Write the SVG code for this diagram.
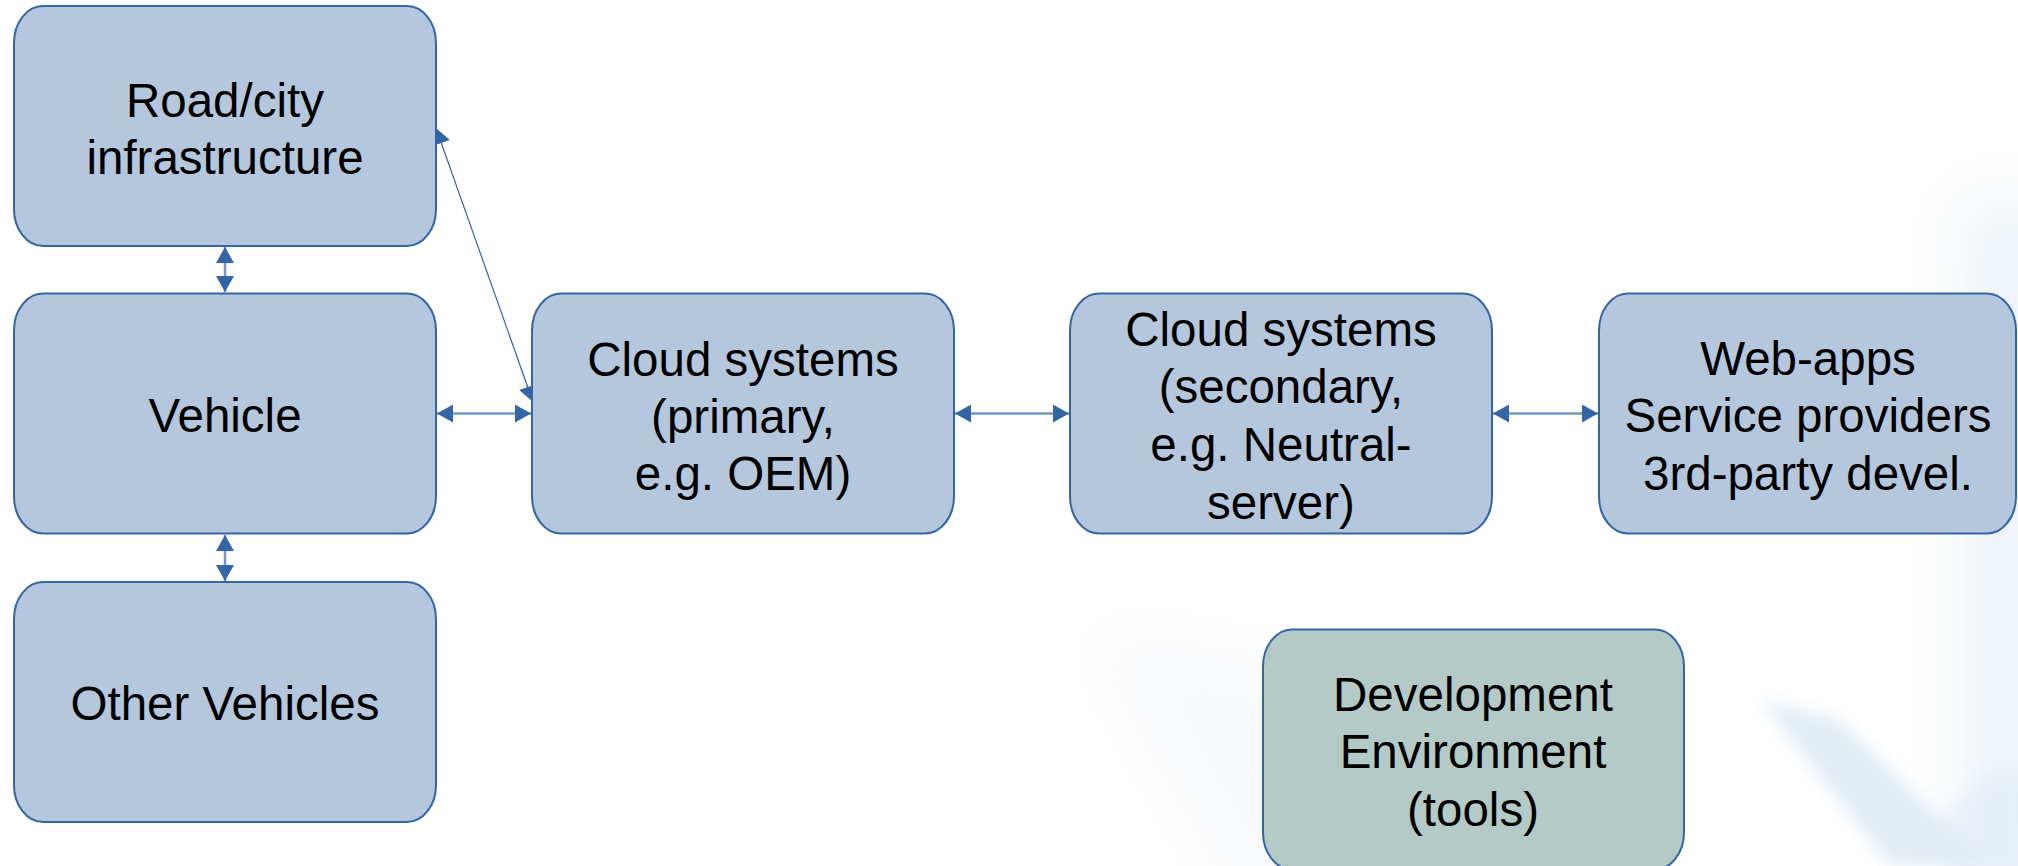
<svg xmlns="http://www.w3.org/2000/svg" width="2018" height="866" viewBox="0 0 2018 866">
  <defs>
    <style>
      .box { fill: #b4c7dc; stroke: #3465a4; stroke-width: 2; }
      .dev { fill: #b3cac7; stroke: #3465a4; stroke-width: 2; }
      .lbl { font-family: "Liberation Sans", Arial, sans-serif; font-size: 47.5px; fill: #000; text-anchor: middle; }
      .conn { fill: none; stroke: #7396c8; stroke-width: 2.5; }
      .thin { fill: none; stroke: #3465a4; stroke-width: 1.2; }
    </style>
    <marker id="ah" viewBox="0 0 16 18" refX="16" refY="9" markerWidth="16" markerHeight="18" markerUnits="userSpaceOnUse" orient="auto-start-reverse">
      <path d="M0,0 L16,9 L0,18 Z" fill="#3465a4"/>
    </marker>
    <filter id="soft" x="-50%" y="-50%" width="200%" height="200%">
      <feGaussianBlur stdDeviation="30"/>
    </filter>
    <filter id="soft2" x="-50%" y="-50%" width="200%" height="200%">
      <feGaussianBlur stdDeviation="8"/>
    </filter>
  </defs>

  <rect width="2018" height="866" fill="#ffffff"/>
  <g id="background">
    <polygon points="1960,200 2060,200 2060,900 1960,900" fill="#e9f1f7" opacity="0.8" filter="url(#soft)"/>
    <polygon points="1100,640 1450,700 1650,900 1250,900" fill="#f1f5f9" opacity="0.6" filter="url(#soft)"/>
    <polygon points="1760,700 1840,720 1990,866 1890,866" fill="#dce8f2" opacity="0.8" filter="url(#soft2)"/>
    <polygon points="1930,830 1985,770 2030,770 2030,880 1950,880" fill="#e4edf5" opacity="0.7" filter="url(#soft2)"/>
  </g>

  <g id="connectors">
    <line class="conn" x1="225" y1="247" x2="225" y2="292" marker-start="url(#ah)" marker-end="url(#ah)"/>
    <line class="conn" x1="225" y1="535" x2="225" y2="581" marker-start="url(#ah)" marker-end="url(#ah)"/>
    <line class="conn" x1="437" y1="413.5" x2="531" y2="413.5" marker-start="url(#ah)" marker-end="url(#ah)"/>
    <line class="conn" x1="955" y1="413.5" x2="1069" y2="413.5" marker-start="url(#ah)" marker-end="url(#ah)"/>
    <line class="conn" x1="1493" y1="413.5" x2="1598" y2="413.5" marker-start="url(#ah)" marker-end="url(#ah)"/>
    <line class="thin" x1="436" y1="128" x2="533" y2="402" marker-start="url(#ah)" marker-end="url(#ah)"/>
  </g>

  <g id="road">
    <rect class="box" x="14" y="6" width="422" height="240" rx="29" ry="37"/>
    <text class="lbl" x="225" y="117">Road/city</text>
    <text class="lbl" x="225" y="174">infrastructure</text>
  </g>
  <g id="vehicle">
    <rect class="box" x="14" y="293.5" width="422" height="240" rx="29" ry="37"/>
    <text class="lbl" x="225" y="432">Vehicle</text>
  </g>
  <g id="other-vehicles">
    <rect class="box" x="14" y="582" width="422" height="240" rx="29" ry="37"/>
    <text class="lbl" x="225" y="720">Other Vehicles</text>
  </g>
  <g id="cloud-primary">
    <rect class="box" x="532" y="293.5" width="422" height="240" rx="29" ry="37"/>
    <text class="lbl" x="743" y="376">Cloud systems</text>
    <text class="lbl" x="743" y="433">(primary,</text>
    <text class="lbl" x="743" y="490">e.g. OEM)</text>
  </g>
  <g id="cloud-secondary">
    <rect class="box" x="1070" y="293.5" width="422" height="240" rx="29" ry="37"/>
    <text class="lbl" x="1281" y="346">Cloud systems</text>
    <text class="lbl" x="1281" y="403">(secondary,</text>
    <text class="lbl" x="1281" y="461">e.g. Neutral-</text>
    <text class="lbl" x="1281" y="519">server)</text>
  </g>
  <g id="web-apps">
    <rect class="box" x="1599" y="293.5" width="417" height="240" rx="29" ry="37"/>
    <text class="lbl" x="1808" y="375">Web-apps</text>
    <text class="lbl" x="1808" y="432">Service providers</text>
    <text class="lbl" x="1808" y="490">3rd-party devel.</text>
  </g>
  <g id="dev-env">
    <rect class="dev" x="1263" y="629.5" width="421" height="240" rx="29" ry="37"/>
    <text class="lbl" x="1473" y="711">Development</text>
    <text class="lbl" x="1473" y="768">Environment</text>
    <text class="lbl" x="1473" y="826">(tools)</text>
  </g>
</svg>
